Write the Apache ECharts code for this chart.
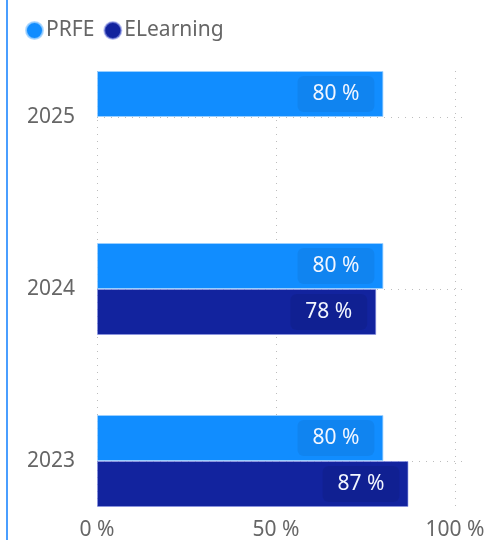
<!DOCTYPE html>
<html>
<head>
<meta charset="utf-8">
<script src="https://cdn.jsdelivr.net/npm/echarts@6/dist/echarts.min.js"></script>
<style>
  html, body { margin: 0; padding: 0; background: #fff; }
  #chart { width: 491px; height: 540px; }
</style>
</head>
<body>
<div id="chart"></div>
<script>
const years = ['2023', '2024', '2025'];
const prfe = [80, 80, 80];
const elearning = [87, 78, null];
const pctTicks = [0, 50, 100];

const font = '"Noto Sans", "Open Sans", sans-serif';

const chart = echarts.init(document.getElementById('chart'));

function barLabel(bg) {
  return {
    show: true,
    position: 'insideRight',
    distance: 9,
    formatter: p => p.value + ' %',
    color: '#f2f6ff',
    fontFamily: font,
    fontSize: 21,
    lineHeight: 26,
    backgroundColor: bg,
    borderRadius: 6,
    padding: [5, 15, 5, 15]
  };
}

const option = {
  animation: false,
  textStyle: { fontFamily: font },
  legend: {
    data: ['PRFE', 'ELearning'],
    left: 20,
    top: 15,
    icon: 'circle',
    itemWidth: 17,
    itemHeight: 17,
    itemGap: 9,
    textStyle: { color: '#666', fontSize: 21, fontFamily: font, padding: [0, 0, 0, -2] }
  },
  graphic: [{
    type: 'line',
    shape: { x1: 7, y1: 0, x2: 7, y2: 540 },
    style: { stroke: '#4a9eff', lineWidth: 2 }
  }],
  grid: [
    { left: 97, right: 24, top: 31, height: 516, outerBoundsMode: 'none' },
    { left: 97, right: 36, top: 71, height: 439, outerBoundsMode: 'none' }
  ],
  xAxis: [
    {
      gridIndex: 0,
      type: 'value',
      min: 0,
      max: 103.35,
      show: false
    },
    {
      gridIndex: 1,
      type: 'value',
      min: 0,
      max: 100,
      interval: 50,
      axisLine: { show: false },
      axisTick: { show: false },
      axisLabel: {
        color: '#666',
        fontSize: 21,
        margin: 10,
        formatter: v => pctTicks.includes(v) ? v + ' %' : ''
      },
      splitLine: { lineStyle: { color: '#bdbdbd', type: [1, 6], width: 1 } }
    }
  ],
  yAxis: [
    {
      gridIndex: 0,
      type: 'category',
      data: years,
      axisLine: { show: false },
      axisTick: { show: false },
      axisLabel: { color: '#666', fontSize: 21, margin: 22 },
      splitLine: {
        show: true,
        alignWithLabel: true,
        lineStyle: { color: '#bdbdbd', type: [1, 6], width: 1 }
      }
    },
    {
      gridIndex: 1,
      type: 'value',
      show: false,
      min: 0,
      max: 1
    }
  ],
  series: [
    {
      name: 'PRFE',
      type: 'bar',
      xAxisIndex: 0,
      yAxisIndex: 0,
      data: prfe,
      barWidth: 46,
      barGap: '0%',
      itemStyle: { color: '#118DFF', borderColor: 'rgba(160,210,255,0.8)', borderWidth: 1 },
      label: barLabel('rgba(0,0,0,0.06)'),
      z: 3
    },
    {
      name: 'ELearning',
      type: 'bar',
      xAxisIndex: 0,
      yAxisIndex: 0,
      data: elearning,
      barWidth: 46,
      barGap: '0%',
      itemStyle: { color: '#12239E', borderColor: 'rgba(140,150,230,0.6)', borderWidth: 1 },
      label: barLabel('rgba(0,0,0,0.07)'),
      z: 3
    }
  ]
};

chart.setOption(option);
</script>
</body>
</html>
